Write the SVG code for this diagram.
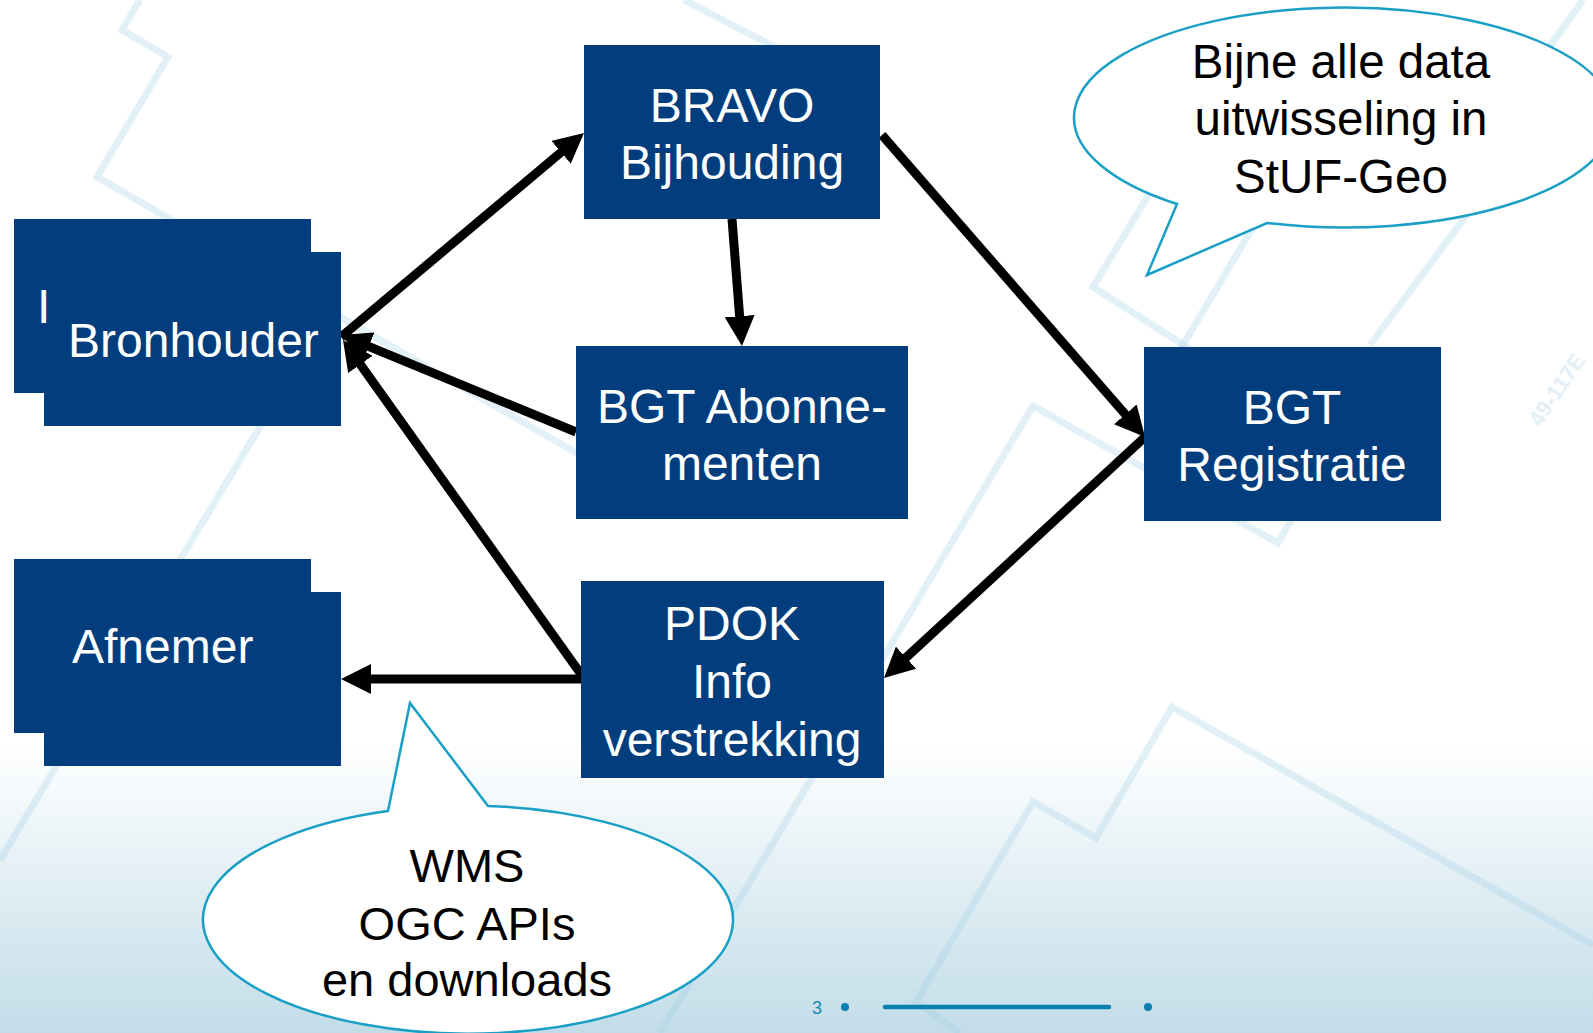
<svg xmlns="http://www.w3.org/2000/svg" width="1593" height="1033" viewBox="0 0 1593 1033">
  <defs>
    <linearGradient id="bg" x1="0" y1="0" x2="0" y2="1">
      <stop offset="0" stop-color="#ffffff"/>
      <stop offset="0.72" stop-color="#ffffff"/>
      <stop offset="1" stop-color="#c2dde8"/>
    </linearGradient>
    <marker id="ah" markerUnits="userSpaceOnUse" markerWidth="30" markerHeight="30" refX="10" refY="15" orient="auto">
      <path d="M0,0 L30,15 L0,30 Z" fill="#000"/>
    </marker>
  </defs>
  <style>
    .deco { fill: none; stroke: #a0cde6; stroke-opacity: 0.3; stroke-width: 7; }
    .box { fill: #023e7d; }
    .lbl { font-family: "Liberation Sans", Arial, sans-serif; font-size: 48px; fill: #ffffff; text-anchor: middle; }
    .lbl-l { font-family: "Liberation Sans", Arial, sans-serif; font-size: 48px; fill: #ffffff; }
    .bub { fill: #ffffff; stroke: #1a9fc6; stroke-width: 2.5; stroke-linejoin: miter; }
    .btxt { font-family: "Liberation Sans", Arial, sans-serif; fill: #000000; text-anchor: middle; }
    .conn { fill: none; stroke: #000; stroke-width: 9; marker-end: url(#ah); }
  </style>

  <rect x="0" y="0" width="1593" height="1033" fill="url(#bg)"/>

  <g id="background-lines">
    <path class="deco" d="M140,0 L122,30 L168,57 L97,177 L580,455"/>
    <path class="deco" d="M300,360 L0,860"/>
    <path class="deco" d="M684,0 L790,55"/>
    <path class="deco" d="M660,1033 L1033,406 L1278,543 L1300,505"/>
    <path class="deco" d="M1593,945 L1172,707 L1096,838 L1033,802 L916,1002 L960,1033"/>
    <path class="deco" d="M1200,110 L1093,287 L1300,420"/>
    <path class="deco" d="M1180,350 L1290,165"/>
    <path class="deco" d="M1370,345 L1500,170"/>
    <path class="deco" d="M1540,60 L1583,0"/>
    <text x="1540" y="428" transform="rotate(-56 1540 428)" font-family="Liberation Sans, Arial, sans-serif" font-size="22" font-weight="bold" fill="#e3eff7">49-117E</text>
  </g>

  <g id="connectors">
    <path class="conn" d="M341,337 L568.7,145.9"/>
    <path class="conn" d="M732,219 L740.4,326.1"/>
    <path class="conn" d="M576,432 L359.5,342.6"/>
    <path class="conn" d="M583,677 L354.6,356.3"/>
    <path class="conn" d="M583,679 L361,679"/>
    <path class="conn" d="M882,135 L1131.9,421.9"/>
    <path class="conn" d="M1145,437 L898.7,664.4"/>
  </g>

  <g id="node-bronhouder">
    <rect class="box" x="14" y="219" width="297" height="174"/>
    <rect class="box" x="44" y="252" width="297" height="174"/>
    <text class="lbl-l" x="37" y="323">I</text>
    <text class="lbl-l" x="68" y="357">Bronhouder</text>
  </g>

  <g id="node-afnemer">
    <rect class="box" x="14" y="559" width="297" height="174"/>
    <rect class="box" x="44" y="592" width="297" height="174"/>
    <text class="lbl-l" x="72" y="663">Afnemer</text>
  </g>

  <g id="node-bravo">
    <rect class="box" x="584" y="45" width="296" height="174"/>
    <text class="lbl" x="732" y="122">BRAVO</text>
    <text class="lbl" x="732" y="179">Bijhouding</text>
  </g>

  <g id="node-bgt-abonnementen">
    <rect class="box" x="576" y="346" width="332" height="173"/>
    <text class="lbl" x="742" y="423">BGT Abonne-</text>
    <text class="lbl" x="742" y="480">menten</text>
  </g>

  <g id="node-pdok">
    <rect class="box" x="581" y="581" width="303" height="197"/>
    <text class="lbl" x="732" y="640">PDOK</text>
    <text class="lbl" x="732" y="698">Info</text>
    <text class="lbl" x="732" y="756">verstrekking</text>
  </g>

  <g id="node-bgt-registratie">
    <rect class="box" x="1144" y="347" width="297" height="174"/>
    <text class="lbl" x="1292" y="424">BGT</text>
    <text class="lbl" x="1292" y="481">Registratie</text>
  </g>

  <g id="callout-stuf">
    <path class="bub" d="M1177,204 A270,110 0 1 1 1267,223 L1147,275 Z"/>
    <text class="btxt" font-size="47.5" x="1341" y="78">Bijne alle data</text>
    <text class="btxt" font-size="47.5" x="1341" y="135">uitwisseling in</text>
    <text class="btxt" font-size="47.5" x="1341" y="193">StUF-Geo</text>
  </g>

  <g id="callout-wms">
    <path class="bub" d="M388,811 L410,703 L488,806 A265,114 0 1 1 388,811 Z"/>
    <text class="btxt" font-size="47" x="467" y="882">WMS</text>
    <text class="btxt" font-size="47" x="467" y="940">OGC APIs</text>
    <text class="btxt" font-size="47" x="467" y="996">en downloads</text>
  </g>

  <g id="footer">
    <text x="812" y="1014" font-family="Liberation Sans, Arial, sans-serif" font-size="18" fill="#1a86b4">3</text>
    <circle cx="845" cy="1007" r="4" fill="#0b7fb0"/>
    <line x1="885" y1="1007" x2="1109" y2="1007" stroke="#0b7fb0" stroke-width="4.5" stroke-linecap="round"/>
    <circle cx="1148" cy="1007" r="4" fill="#0b7fb0"/>
  </g>
</svg>
